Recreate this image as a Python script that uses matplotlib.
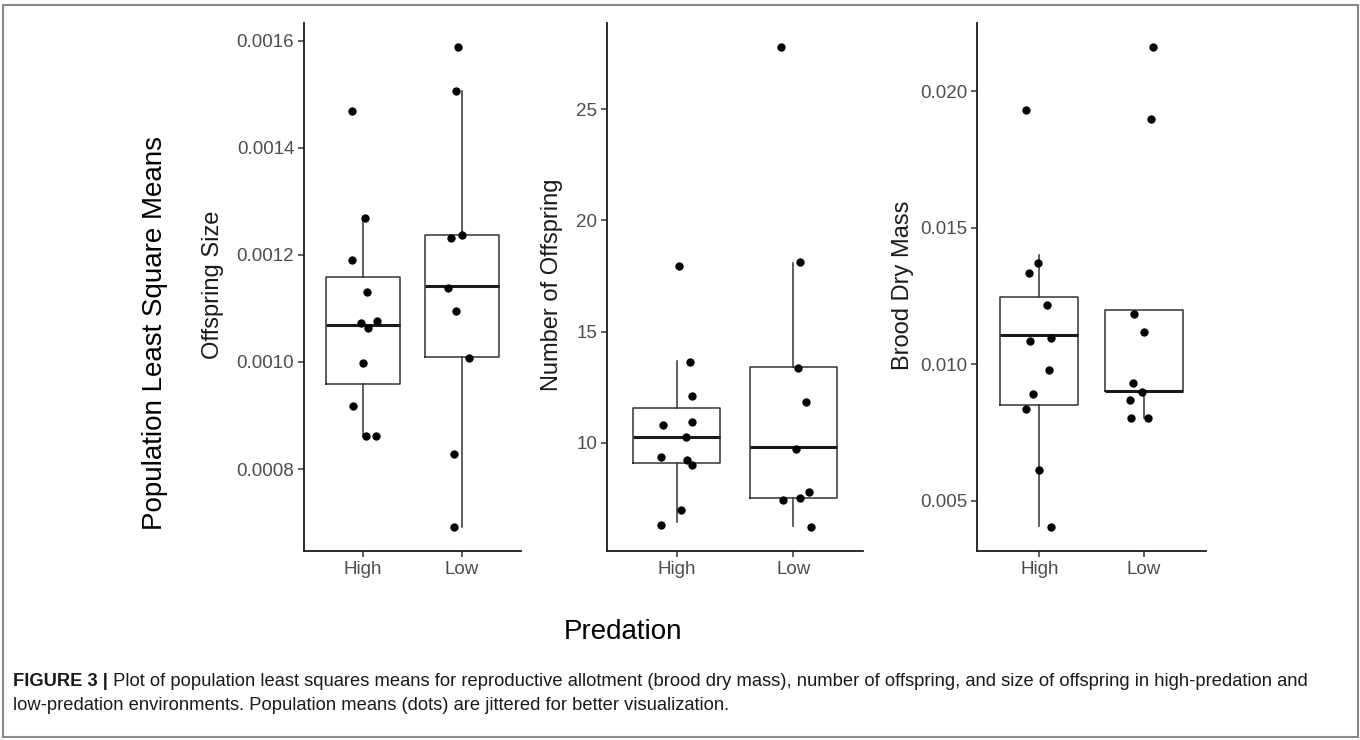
import matplotlib
matplotlib.use("Agg")
import matplotlib.pyplot as plt
from matplotlib.patches import Rectangle

plt.rcParams['font.family'] = ['Liberation Sans', 'DejaVu Sans']

groups = ['High', 'Low']

# offspring size (jittered population means, dx = horizontal jitter)
high_size = [0.001469, 0.001269, 0.001190, 0.001131, 0.001072, 0.001064,
             0.001076, 0.000998, 0.000917, 0.000861, 0.000861]
high_size_dx = [-0.117, 0.017, -0.117, 0.037, -0.027, 0.05, 0.14, 0.003,
                -0.10, 0.033, 0.127]
low_size = [0.001588, 0.001506, 0.001232, 0.001238, 0.001139, 0.001096,
            0.001007, 0.000829, 0.000692]
low_size_dx = [-0.037, -0.063, -0.11, -0.003, -0.137, -0.063, 0.07, -0.077,
               -0.077]
# box stats: whisker low, q1, median, q3, whisker high
box_size = [(0.000861, 0.000959, 0.00107, 0.001159, 0.001269),
            (0.000692, 0.00101, 0.001142, 0.001238, 0.001506)]

# number of offspring
high_num = [17.94, 13.65, 12.1, 10.8, 10.93, 10.27, 9.38, 9.24, 8.98, 6.96, 6.32]
high_num_dx = [0.023, 0.116, 0.13, -0.122, 0.13, 0.075, -0.136, 0.087, 0.13,
               0.032, -0.136]
low_num = [27.8, 18.14, 13.38, 11.82, 9.73, 7.78, 7.5, 7.42, 6.21]
low_num_dx = [-0.104, 0.055, 0.044, 0.108, 0.026, 0.137, 0.055, -0.087, 0.151]
box_num = [(6.45, 9.11, 10.24, 11.56, 13.67),
           (6.26, 7.5, 9.81, 13.42, 18.1)]

# brood dry mass
high_mass = [0.01932, 0.01333, 0.01372, 0.01215, 0.01085, 0.01096, 0.00977,
             0.00892, 0.00836, 0.00611, 0.00403]
high_mass_dx = [-0.13, -0.10, -0.01, 0.07, -0.087, 0.115, 0.087, -0.06, -0.13,
                0.0, 0.115]
low_mass = [0.02162, 0.01897, 0.01183, 0.01119, 0.00929, 0.00899, 0.0087,
            0.00804, 0.00804]
low_mass_dx = [0.087, 0.074, -0.087, 0.0, -0.1, -0.016, -0.13, -0.12, 0.04]
box_mass = [(0.00407, 0.0085, 0.01105, 0.01247, 0.014),
            (0.00804, 0.00903, 0.00903, 0.01198, 0.01198)]

size_ticks = [0.0008, 0.0010, 0.0012, 0.0014, 0.0016]
num_ticks = [10, 15, 20, 25]
mass_ticks = [0.005, 0.010, 0.015, 0.020]

W, H = 1360, 740
fig = plt.figure(figsize=(W / 100, H / 100), dpi=100)


def px_axes(left, right, top, bottom):
    return fig.add_axes([left / W, 1 - bottom / H, (right - left) / W,
                         (bottom - top) / H])


def panel(ax, hi, hi_dx, lo, lo_dx, boxes, ticks, fmt):
    stats = []
    for b in boxes:
        stats.append(dict(whislo=b[0], q1=b[1], med=b[2], q3=b[3], whishi=b[4],
                          fliers=[]))
    ax.bxp(stats, positions=[1, 2], widths=0.75, showcaps=False,
           boxprops=dict(color='#333333', lw=1.1),
           whiskerprops=dict(color='#333333', lw=1.1),
           medianprops=dict(color='#1a1a1a', lw=2.2))
    ax.scatter([1 + d for d in hi_dx], hi, s=36, color='black', zorder=3,
               linewidths=0)
    ax.scatter([2 + d for d in lo_dx], lo, s=36, color='black', zorder=3,
               linewidths=0)
    allv = hi + lo
    pad = 0.05 * (max(allv) - min(allv))
    ax.set_ylim(min(allv) - pad, max(allv) + pad)
    ax.set_xlim(0.4, 2.6)
    ax.set_xticks([1, 2], groups)
    ax.set_yticks(ticks, [fmt.format(t) for t in ticks])
    for s in ['top', 'right']:
        ax.spines[s].set_visible(False)
    for s in ['left', 'bottom']:
        ax.spines[s].set_linewidth(1.3)
        ax.spines[s].set_color('#1a1a1a')
    ax.tick_params(length=4, width=1.1, color='#333333', labelcolor='#4d4d4d',
                   labelsize=13.5, pad=3)


ax1 = px_axes(304, 521, 23, 551)
panel(ax1, high_size, high_size_dx, low_size, low_size_dx, box_size,
      size_ticks, '{:.4f}')
ax2 = px_axes(607, 863, 23, 551)
panel(ax2, high_num, high_num_dx, low_num, low_num_dx, box_num,
      num_ticks, '{:.0f}')
ax3 = px_axes(977, 1206, 23, 551)
panel(ax3, high_mass, high_mass_dx, low_mass, low_mass_dx, box_mass,
      mass_ticks, '{:.3f}')

fig.text(213 / W, 1 - 285 / H, 'Offspring Size', rotation=90, ha='center',
         va='center', fontsize=17, color='#1a1a1a')
fig.text(552 / W, 1 - 285 / H, 'Number of Offspring', rotation=90, ha='center',
         va='center', fontsize=17, color='#1a1a1a')
fig.text(903 / W, 1 - 285 / H, 'Brood Dry Mass', rotation=90, ha='center',
         va='center', fontsize=17, color='#1a1a1a')
fig.text(155 / W, 1 - 333 / H, 'Population Least Square Means', rotation=90,
         ha='center', va='center', fontsize=20, color='black')
fig.text(623 / W, 1 - 632 / H, 'Predation', ha='center', va='center',
         fontsize=20, color='black')

# caption with bold lead-in
cap_bold = 'FIGURE 3 |'
cap1 = (' Plot of population least squares means for reproductive allotment '
        '(brood dry mass), number of offspring, and size of offspring in '
        'high-predation and')
cap2 = ('low-predation environments. Population means (dots) are jittered for '
        'better visualization.')
tb = fig.text(13 / W, 1 - 682 / H, cap_bold, ha='left', va='center',
              fontsize=13.2, fontweight='bold', color='#1a1a1a')
fig.canvas.draw()
bb = tb.get_window_extent()
fig.text(bb.x1 / W, 1 - 682 / H, cap1, ha='left', va='center', fontsize=13.2,
         color='#1a1a1a')
fig.text(13 / W, 1 - 706 / H, cap2, ha='left', va='center', fontsize=13.2,
         color='#1a1a1a')

fig.patches.append(Rectangle((2.5 / W, 3.5 / H), (W - 5) / W, (H - 8) / H,
                             transform=fig.transFigure, fill=False,
                             edgecolor='#8a8a8a', lw=1.5))

fig.savefig('out.png', dpi=100)
